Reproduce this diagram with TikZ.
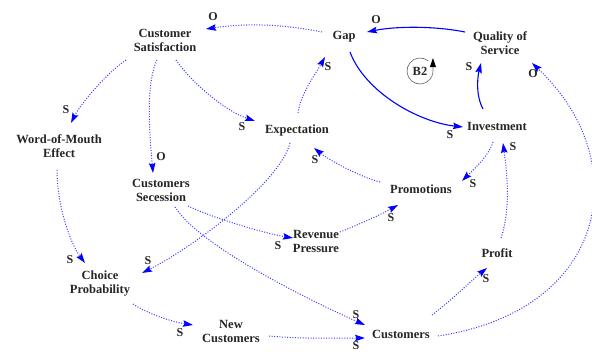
\documentclass[tikz,border=0pt]{standalone}
\usepackage{fontspec}
\setmainfont{Liberation Serif}
\usetikzlibrary{arrows.meta}
\definecolor{linkblue}{RGB}{0,0,255}
\definecolor{dotblue}{RGB}{60,60,255}
\begin{document}
\begin{tikzpicture}[x=1pt,y=-1pt,
  var/.style={font=\fontsize{12.5}{14}\selectfont\bfseries, align=center, inner sep=1pt, text=black!85},
  pol/.style={font=\fontsize{12}{12}\selectfont\bfseries, inner sep=0pt, text=black!85},
  tip/.style={-{Stealth[length=10pt,width=6.5pt,inset=1.5pt,color=linkblue]}},
  flow/.style={tip, draw=linkblue, line width=1.1pt},
  link/.style={tip, draw=dotblue, line width=1pt, dash pattern=on 1pt off 1.6pt}]
\useasboundingbox[fill=white] (0,0) rectangle (592,352);

% variables
\node[var] (cs)  at (165,40)  {Customer\\Satisfaction};
\node[var] (gap) at (344,37)  {Gap};
\node[var] (qos) at (500,43)  {Quality of\\Service};
\node[var] (wom) at (59,146)  {Word-of-Mouth\\Effect};
\node[var] (exp) at (297,130) {Expectation};
\node[var] (inv) at (497,126) {Investment};
\node[var] (sec) at (161,190) {Customers\\Secession};
\node[var] (pro) at (421,189) {Promotions};
\node[var] (rev) at (316,241) {Revenue\\Pressure};
\node[var] (cho) at (100,284) {Choice\\Probability};
\node[var] (prf) at (497,253) {Profit};
\node[var] (nc)  at (231,331) {New\\Customers};
\node[var] (cus) at (401,334) {Customers};

% balancing loop marker
\node[var] (b2) at (420,71) {B2};
\draw[black!55, line width=0.7pt] ([shift={(50:13pt)}]b2.center)
  arc[start angle=50, end angle=355, radius=13pt]
  [-{Triangle[length=9pt,width=6pt,color=black]}] -- ++(0pt,14pt);

% balancing loop (solid links)
\draw[flow] ([shift={(-35,-11)}]qos.center) .. controls +(-30,-6) and +(30,-6) .. ([shift={(23,-5)}]gap.center);
\draw[flow] ([shift={(6,15)}]gap.center) .. controls +(15,40) and +(-45,-5) .. ([shift={(-34,1)}]inv.center);
\draw[flow] ([shift={(-14,-17)}]inv.center) .. controls +(-8,-15) and +(-3,12) .. ([shift={(-19,20)}]qos.center);

% dotted links
\draw[link] ([shift={(-22,-5)}]gap.center) .. controls +(-40,-8) and +(40,-6) .. ([shift={(41,-11)}]cs.center);
\draw[link] ([shift={(-39,20)}]cs.center) .. controls +(-18,12) and +(10,-20) .. ([shift={(12,-23)}]wom.center);
\draw[link] ([shift={(-8,20)}]cs.center) .. controls +(-12,25) and +(-3,-35) .. ([shift={(-8,-17)}]sec.center);
\draw[link] ([shift={(11,20)}]cs.center) .. controls +(15,22) and +(-30,-10) .. ([shift={(-42,-9)}]exp.center);
\draw[link] ([shift={(1,-17)}]exp.center) .. controls +(3,-20) and +(-10,18) .. ([shift={(-19,20)}]gap.center);
\draw[link] ([shift={(-7,13)}]exp.center) .. controls +(-10,40) and +(50,-25) .. ([shift={(42,-11)}]cho.center);
\draw[link] ([shift={(-2,24)}]wom.center) .. controls +(0,35) and +(-15,-20) .. ([shift={(-15,-21)}]cho.center);
\draw[link] ([shift={(33,20)}]cho.center) .. controls +(15,10) and +(-20,-3) .. ([shift={(-38,-6)}]nc.center);
\draw[link] ([shift={(38,5)}]nc.center) .. controls +(30,3) and +(-30,0) .. ([shift={(-36,4)}]cus.center);
\draw[link] ([shift={(14,17)}]sec.center) .. controls +(25,40) and +(-50,-22) .. ([shift={(-36,-9)}]cus.center);
\draw[link] ([shift={(27,16)}]sec.center) .. controls +(25,12) and +(-30,-5) .. ([shift={(-23,-3)}]rev.center);
\draw[link] ([shift={(24,-9)}]rev.center) .. controls +(20,-8) and +(-18,10) .. ([shift={(-23,16)}]pro.center);
\draw[link] ([shift={(-41,-7)}]pro.center) .. controls +(-20,-5) and +(15,12) .. ([shift={(17,18)}]exp.center);
\draw[link] ([shift={(-4,16)}]inv.center) .. controls +(-5,15) and +(12,-12) .. ([shift={(41,-8)}]pro.center);
\draw[link] ([shift={(4,-15)}]prf.center) .. controls +(10,-30) and +(4,30) .. ([shift={(6,17)}]inv.center);
\draw[link] ([shift={(31,-19)}]cus.center) .. controls +(20,-15) and +(-15,12) .. ([shift={(-10,15)}]prf.center);
\draw[link] ([shift={(37,2)}]cus.center) .. controls +(172,-26) and +(103,97) .. ([shift={(32,20)}]qos.center);

% link polarities
\node[pol] (p1)  at (213,17)  {O};
\node[pol] (p2)  at (376,20)  {O};
\node[pol] (p3)  at (450,135) {S};
\node[pol] (p4)  at (469,67)  {S};
\node[pol] (p5)  at (66,110)  {S};
\node[pol] (p6)  at (161,157) {O};
\node[pol] (p7)  at (242,127) {S};
\node[pol] (p8)  at (328,67)  {S};
\node[pol] (p9)  at (148,261) {S};
\node[pol] (p10) at (70,260)  {S};
\node[pol] (p11) at (180,333) {S};
\node[pol] (p12) at (356,346) {S};
\node[pol] (p13) at (356,315) {S};
\node[pol] (p14) at (278,246) {S};
\node[pol] (p15) at (391,218) {S};
\node[pol] (p16) at (315,160) {S};
\node[pol] (p17) at (473,184) {S};
\node[pol] (p18) at (513,147) {S};
\node[pol] (p19) at (486,279) {S};
\node[pol] (p20) at (533,74)  {O};
\end{tikzpicture}
\end{document}
